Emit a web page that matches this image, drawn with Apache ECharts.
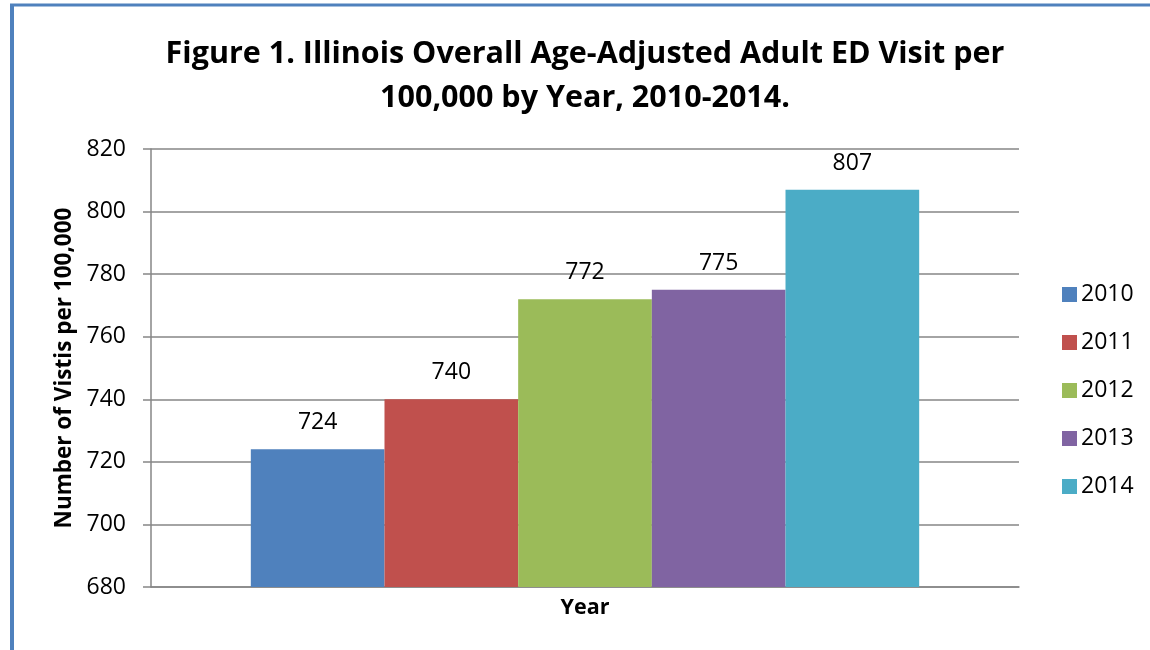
<!DOCTYPE html>
<html><head><meta charset="utf-8">
<script src="https://cdn.jsdelivr.net/npm/echarts@6/dist/echarts.min.js"></script>
<style>html,body{margin:0;padding:0;background:#fff}#c{width:1150px;height:650px}</style>
</head><body><div id="c"></div>
<script>
const categories = [''];
const years = ['2010', '2011', '2012', '2013', '2014'];
const values = [724, 740, 772, 775, 807];
const colors = ['#4f81bd', '#c0504d', '#9bbb59', '#8064a2', '#4bacc6'];
const yTicks = {min: 680, max: 820, interval: 20};

const FONT = '"Open Sans", sans-serif';
const chart = echarts.init(document.getElementById('c'));
const series = years.map((y, i) => ({
  name: y, type: 'bar', data: [values[i]],
  barGap: '0%', barCategoryGap: '23%',
  itemStyle: {color: colors[i]},
  label: {show: true, position: 'top', distance: 15, color: '#000', fontSize: 23, fontFamily: FONT}
}));
chart.setOption({
  animation: false,
  title: {
    text: 'Figure 1. Illinois Overall Age-Adjusted Adult ED Visit per\n100,000 by Year, 2010-2014.',
    left: 580, top: 27, textAlign: 'center',
    textStyle: {fontSize: 30.5, fontWeight: 'bold', fontFamily: FONT, color: '#000', lineHeight: 44}
  },
  legend: {
    orient: 'vertical', left: 1057, top: 278, itemWidth: 15, itemHeight: 15, itemGap: 25,
    icon: 'rect', textStyle: {fontSize: 23, fontFamily: FONT, color: '#000', padding: [0, 0, 0, -1]}, data: years
  },
  grid: {left: 151, right: 131, top: 149, bottom: 63},
  xAxis: {
    type: 'category', data: categories, name: 'Year', nameLocation: 'middle', nameGap: 10,
    nameTextStyle: {fontSize: 21.5, fontWeight: 'bold', fontFamily: FONT, color: '#000', verticalAlign: 'top'},
    axisLine: {lineStyle: {color: '#868686', width: 1.5}}, axisTick: {show: false}, axisLabel: {show: false}
  },
  yAxis: {
    type: 'value', min: yTicks.min, max: yTicks.max, interval: yTicks.interval,
    name: 'Number of Vistis per 100,000', nameLocation: 'middle', nameGap: 75,
    nameTextStyle: {fontSize: 22.5, fontWeight: 'bold', fontFamily: FONT, color: '#000'},
    axisLine: {show: true, lineStyle: {color: '#868686', width: 1.5}},
    axisTick: {show: true, length: 8, lineStyle: {color: '#868686', width: 1.5}},
    axisLabel: {fontSize: 23, fontFamily: FONT, color: '#000', margin: 25},
    splitLine: {lineStyle: {color: '#868686', width: 1.5}}
  },
  graphic: [
    {type: 'line', shape: {x1: 12, y1: 5, x2: 12, y2: 650}, style: {stroke: '#4f81bd', lineWidth: 4}},
    {type: 'line', shape: {x1: 10, y1: 5, x2: 1150, y2: 5}, style: {stroke: '#4f81bd', lineWidth: 3}}
  ],
  series: series
});
</script></body></html>
